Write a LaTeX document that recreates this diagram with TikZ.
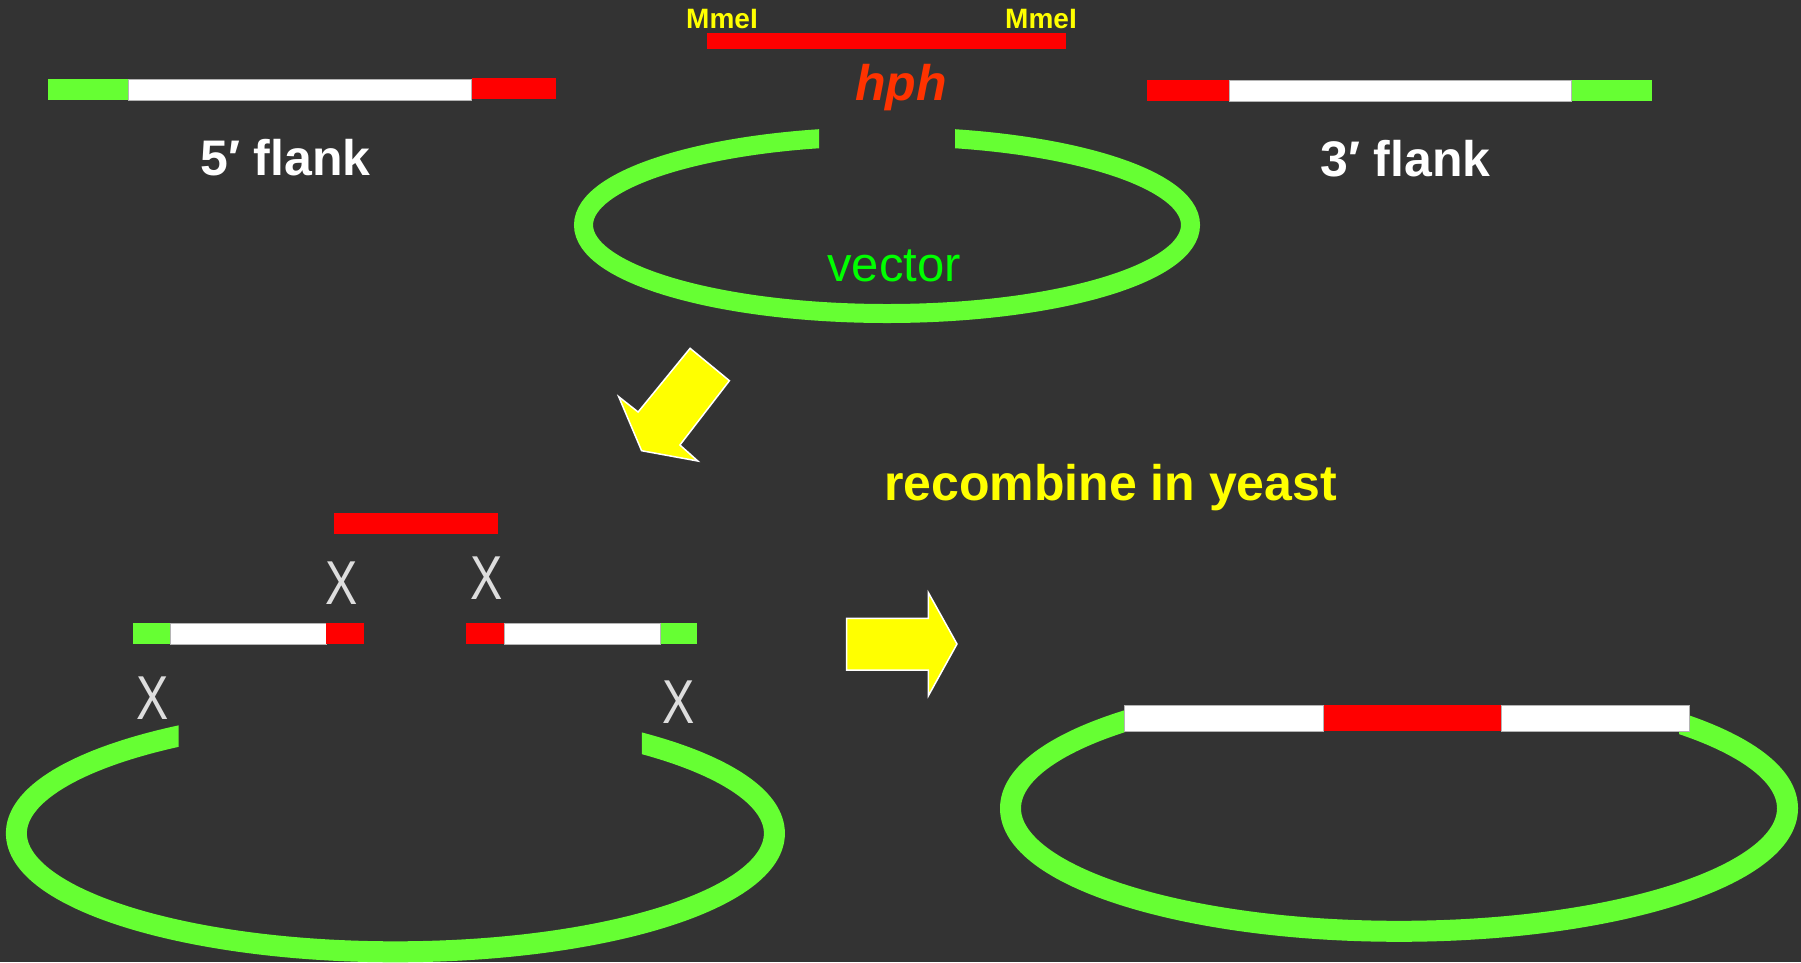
\documentclass[tikz,border=0pt]{standalone}
\usepackage{fontspec}
\setmainfont{Liberation Sans}
\usepackage{graphicx}
\definecolor{bg}{HTML}{333333}
\definecolor{dnagreen}{HTML}{66FF33}
\definecolor{dnared}{HTML}{FF0000}
\definecolor{lbl}{HTML}{FFFF00}
\definecolor{hphcol}{HTML}{FF3300}
\definecolor{vecgreen}{HTML}{00FF00}
\definecolor{xgray}{HTML}{DDDDDD}
\definecolor{edge}{HTML}{B4B4B4}

\begin{document}
\begin{tikzpicture}[x=1pt,y=-1pt,
  plasmid/.style={draw=dnagreen,line width=20pt},
  greenpart/.style={fill=dnagreen},
  redpart/.style={fill=dnared},
  whitepart/.style={fill=white,draw=edge,line width=0.8pt},
  txt/.style={inner sep=0pt,anchor=base},
  flanklabel/.style={txt,text=white,font=\fontsize{50}{60}\selectfont\bfseries},
  sitelabel/.style={txt,text=lbl,font=\fontsize{28}{34}\selectfont\bfseries},
  xmark/.style={txt,text=xgray,font=\fontsize{62}{70}\selectfont},
  blockarrow/.style={fill=lbl,draw=white,line width=1.5pt,line join=miter}]

% canvas
\useasboundingbox (0,0) rectangle (1801,962);
\fill[bg] (0,0) rectangle (1801,962);

% ---- top row: 5' flank fragment ----
\fill[greenpart] (48,79) rectangle (128.6,100);
\filldraw[whitepart] (128.6,79) rectangle (471.8,100);
\fill[redpart] (471.8,78.3) rectangle (555.6,99.3);
\node[flanklabel] (fivelab) at (285.5,175.7) {5′ flank};

% ---- top row: 3' flank fragment ----
\fill[redpart] (1147,80) rectangle (1229.5,101);
\filldraw[whitepart] (1229.5,80) rectangle (1571.6,101);
\fill[greenpart] (1571.6,80) rectangle (1652,101);
\node[flanklabel] (threelab) at (1405.5,176) {3′ flank};

% ---- hph cassette with MmeI sites ----
\fill[redpart] (707,33.3) rectangle (1066,49);
\node[sitelabel] (mmeleft) at (722,28) {MmeI};
\node[sitelabel] (mmeright) at (1041,28) {MmeI};
\node[txt,text=hphcol,font=\fontsize{50}{60}\selectfont\bfseries\itshape] (hphlab) at (901,100) {hph};

% ---- opened vector ----
\begin{scope}
  \clip (540,90) -- (819,90) -- (819,225) -- (955,225) -- (955,90)
        -- (1230,90) -- (1230,345) -- (540,345) -- cycle;
  \draw[plasmid,line width=19pt] (887,225) ellipse [x radius=303.5pt, y radius=88.5pt];
\end{scope}
\node[txt,text=vecgreen,font=\fontsize{49}{58}\selectfont] (veclab) at (894,281.7) {vector};

% ---- arrows ----
\filldraw[blockarrow] (690.1,348.3) -- (729.4,380.7) -- (679.9,445) -- (697.8,461)
  -- (641.6,450.7) -- (618.7,396.7) -- (638.1,412) -- cycle;
\filldraw[blockarrow] (846.7,618.3) -- (928.4,618.3) -- (928.4,592.7) -- (957,644)
  -- (928.4,695.7) -- (928.4,670) -- (846.7,670) -- cycle;
\node[txt,text=lbl,font=\fontsize{50}{60}\selectfont\bfseries] (recomb) at (1110.5,500.7) {recombine in yeast};

% ---- co-transformation: pieces before recombination ----
\fill[redpart] (333.7,513.3) rectangle (498,534.3);

\fill[greenpart] (133.2,623.3) rectangle (170,644.3);
\filldraw[whitepart] (170,623.3) rectangle (326,644.3);
\fill[redpart] (326,623.3) rectangle (363.8,644.3);

\fill[redpart] (465.8,623.3) rectangle (504,644.3);
\filldraw[whitepart] (504,623.3) rectangle (660.7,644.3);
\fill[greenpart] (660.7,623.3) rectangle (697,644.3);

\node[xmark] (xa) at (342,604) {\scalebox{0.78}[1]{X}};
\node[xmark] (xb) at (487,599) {\scalebox{0.78}[1]{X}};
\node[xmark] (xc) at (153,719) {\scalebox{0.78}[1]{X}};
\node[xmark] (xd) at (678.5,723) {\scalebox{0.78}[1]{X}};

\begin{scope}
  \clip (-20,680) -- (178.6,680) -- (178.6,833) -- (641.8,833) -- (641.8,680)
        -- (810,680) -- (810,990) -- (-20,990) -- cycle;
  \draw[plasmid,line width=21pt] (395.4,833.3) ellipse [x radius=379pt, y radius=118.5pt];
\end{scope}

% ---- recombined plasmid ----
\begin{scope}
  \clip (980,640) -- (1134,640) -- (1134,808) -- (1679,808) -- (1679,640)
        -- (1830,640) -- (1830,990) -- (980,990) -- cycle;
  \draw[plasmid,line width=21pt] (1399,808.3) ellipse [x radius=388.5pt, y radius=123pt];
\end{scope}
\filldraw[whitepart] (1124,705) rectangle (1323.5,731.3);
\fill[redpart] (1323.5,705) rectangle (1501,731.3);
\filldraw[whitepart] (1501,705) rectangle (1689,731.3);

\end{tikzpicture}
\end{document}
